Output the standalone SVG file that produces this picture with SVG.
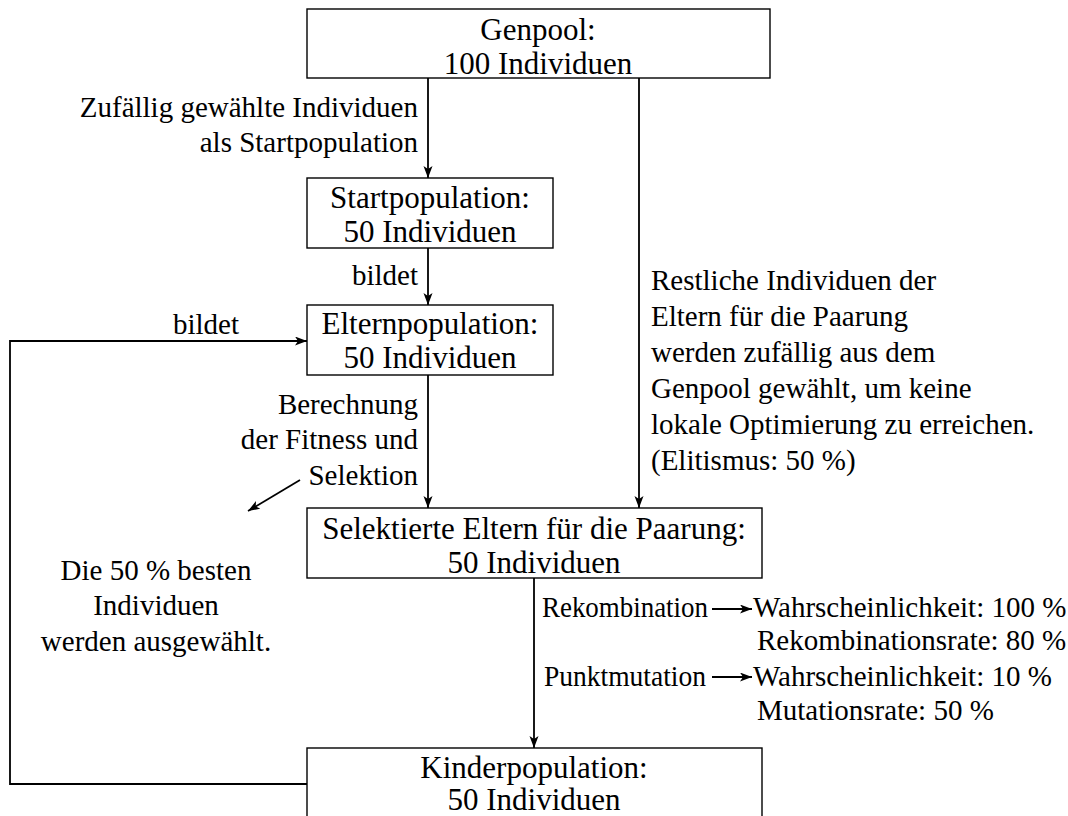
<svg xmlns="http://www.w3.org/2000/svg" width="1068" height="816" viewBox="0 0 1068 816">
<style>
.box{fill:#fff;stroke:#000;stroke-width:1.4}
.bt{font-family:"Liberation Serif",serif;font-size:31px;fill:#000;text-anchor:middle}
.lb{font-family:"Liberation Serif",serif;font-size:29px;fill:#000}
.r{text-anchor:end}
.m{text-anchor:middle}
.c{fill:none;stroke:#000;stroke-width:1.8}
</style>
<defs>
<marker id="ah" markerUnits="userSpaceOnUse" markerWidth="13" markerHeight="10" refX="12" refY="4.5" orient="auto">
<path d="M0,0 L12,4.5 L0,9 L3,4.5 z" fill="#000"/>
</marker>
</defs>
<rect width="1068" height="816" fill="#fff"/>
<g id="connectors">
<line class="c" x1="428" y1="78" x2="428" y2="178" marker-end="url(#ah)"/>
<line class="c" x1="639" y1="78" x2="639" y2="508" marker-end="url(#ah)"/>
<line class="c" x1="428" y1="248" x2="428" y2="305" marker-end="url(#ah)"/>
<line class="c" x1="428" y1="375" x2="428" y2="508" marker-end="url(#ah)"/>
<line class="c" x1="534" y1="578" x2="534" y2="748" marker-end="url(#ah)"/>
<polyline class="c" points="307,784 10,784 10,341 307,341" marker-end="url(#ah)"/>
<line class="c" x1="300" y1="480" x2="248" y2="511" marker-end="url(#ah)"/>
<line class="c" x1="712" y1="609" x2="752" y2="609" marker-end="url(#ah)"/>
<line class="c" x1="712" y1="677" x2="752" y2="677" marker-end="url(#ah)"/>
<text class="lb r" x="418" y="117">Zufällig gewählte Individuen</text>
<text class="lb r" x="418" y="152">als Startpopulation</text>
<text class="lb r" x="418" y="285">bildet</text>
<text class="lb m" x="206" y="334">bildet</text>
<text class="lb r" x="418" y="414">Berechnung</text>
<text class="lb r" x="418" y="449">der Fitness und</text>
<text class="lb r" x="418" y="485">Selektion</text>
<text class="lb" x="651" y="290">Restliche Individuen der</text>
<text class="lb" x="651" y="326">Eltern für die Paarung</text>
<text class="lb" x="651" y="362">werden zufällig aus dem</text>
<text class="lb" x="651" y="398">Genpool gewählt, um keine</text>
<text class="lb" x="651" y="434">lokale Optimierung zu erreichen.</text>
<text class="lb" x="651" y="470">(Elitismus: 50 %)</text>
<text class="lb m" x="156" y="580">Die 50 % besten</text>
<text class="lb m" x="156" y="615">Individuen</text>
<text class="lb m" x="156" y="651">werden ausgewählt.</text>
<text class="lb" x="542" y="617" textLength="166" lengthAdjust="spacingAndGlyphs">Rekombination</text>
<text class="lb" x="753" y="617">Wahrscheinlichkeit: 100 %</text>
<text class="lb" x="757" y="650">Rekombinationsrate: 80 %</text>
<text class="lb" x="544" y="686" textLength="162" lengthAdjust="spacingAndGlyphs">Punktmutation</text>
<text class="lb" x="753" y="686">Wahrscheinlichkeit: 10 %</text>
<text class="lb" x="757" y="720">Mutationsrate: 50 %</text>
</g>
<g id="genpool">
<rect class="box" x="307" y="9" width="463" height="69"/>
<text class="bt" x="538" y="40">Genpool:</text>
<text class="bt" x="538" y="74">100 Individuen</text>
</g>
<g id="startpopulation">
<rect class="box" x="307" y="178" width="246" height="70"/>
<text class="bt" x="430" y="208">Startpopulation:</text>
<text class="bt" x="430" y="242">50 Individuen</text>
</g>
<g id="elternpopulation">
<rect class="box" x="307" y="305" width="246" height="70"/>
<text class="bt" x="430" y="334">Elternpopulation:</text>
<text class="bt" x="430" y="368">50 Individuen</text>
</g>
<g id="selektierte">
<rect class="box" x="307" y="508" width="455" height="70"/>
<text class="bt" x="534" y="539">Selektierte Eltern für die Paarung:</text>
<text class="bt" x="534" y="573">50 Individuen</text>
</g>
<g id="kinderpopulation">
<rect class="box" x="307" y="748" width="455" height="80"/>
<text class="bt" x="534" y="778">Kinderpopulation:</text>
<text class="bt" x="534" y="810">50 Individuen</text>
</g>
</svg>
